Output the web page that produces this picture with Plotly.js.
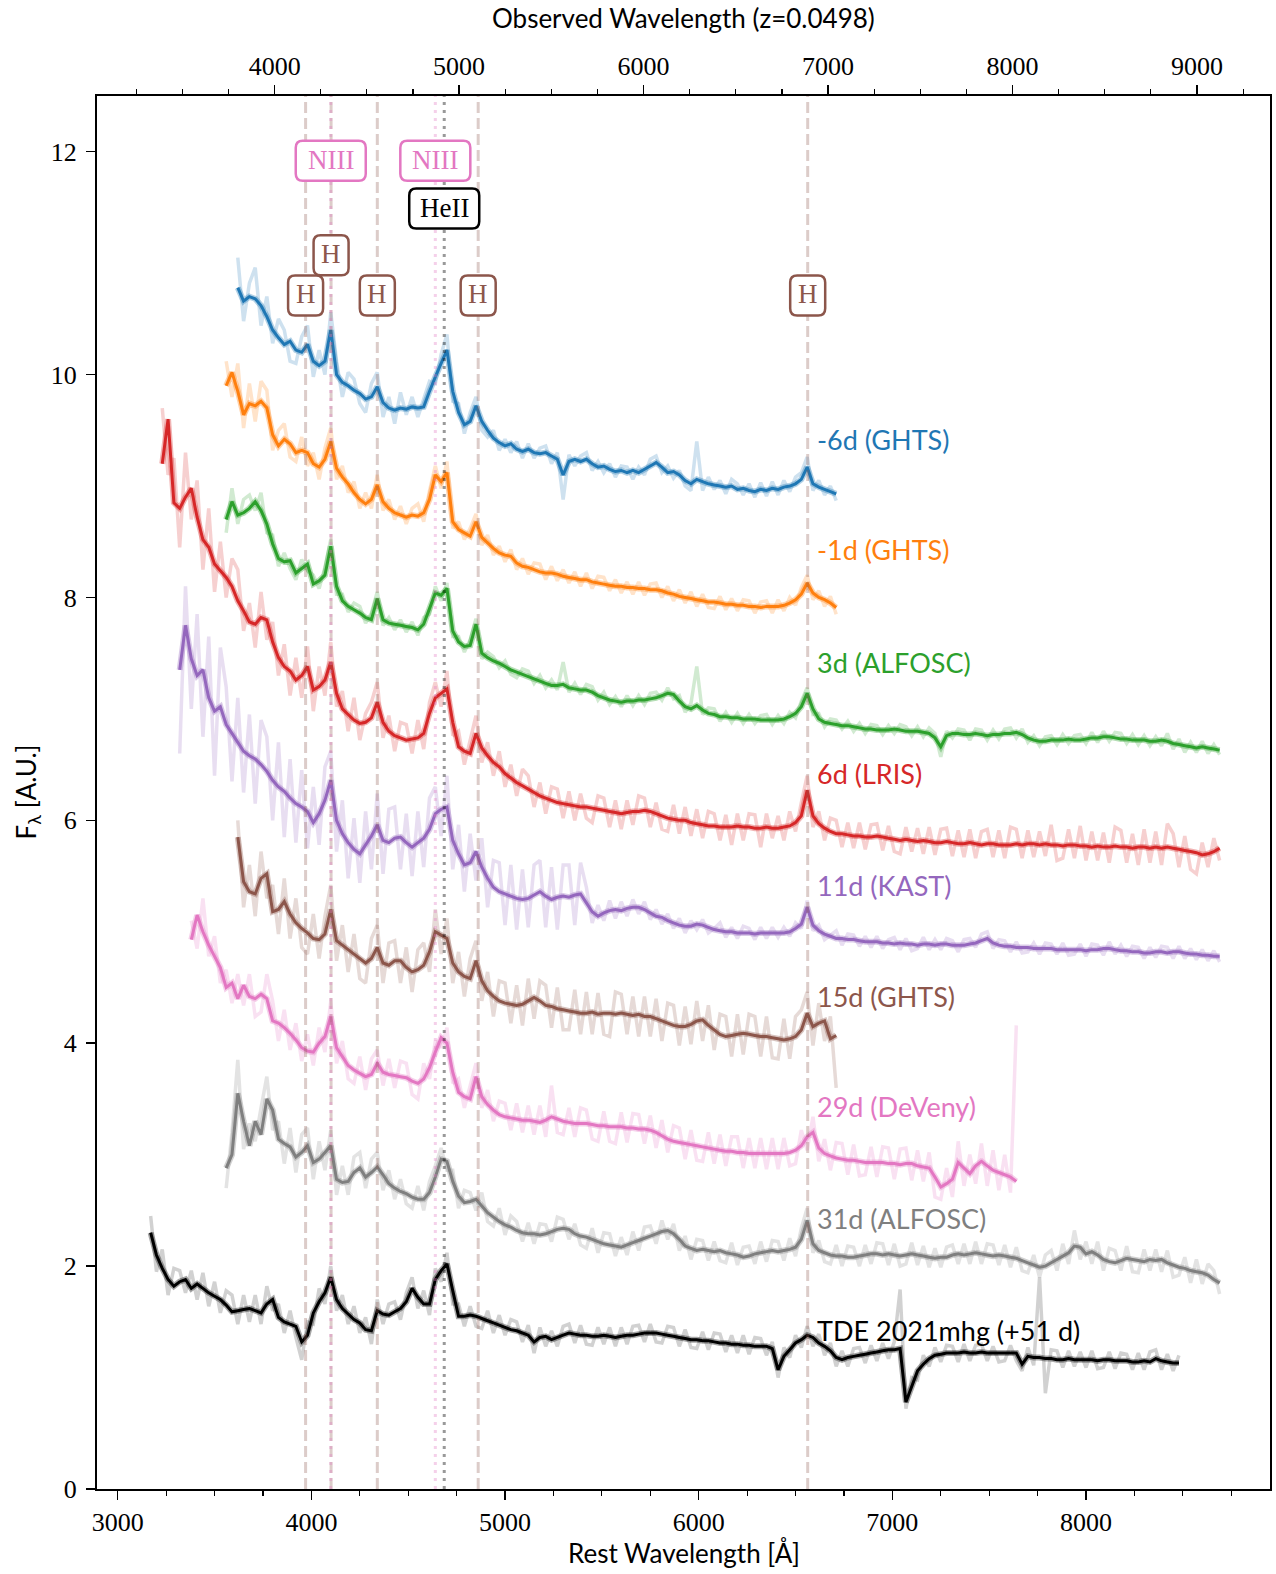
<!DOCTYPE html>
<html>
<head>
<meta charset="utf-8">
<script src="https://cdn.plot.ly/plotly-3.0.1.min.js"></script>
<style>
  html, body { margin: 0; padding: 0; background: #ffffff; }
  #chart { width: 1276px; height: 1574px; }
</style>
</head>
<body>
<div id="chart"></div>
<script>
// Spectral sequence, rest-frame wavelength (Å) vs. offset flux F_lambda.
// Every spectrum is sampled on a uniform 30 Å grid beginning at waveStart[k].
const WAVE_STEP = 30;
const REDSHIFT = 0.0498;

const epochLabels = ['-6d (GHTS)', '-1d (GHTS)', '3d (ALFOSC)', '6d (LRIS)', '11d (KAST)',
                     '15d (GHTS)', '29d (DeVeny)', '31d (ALFOSC)', 'TDE 2021mhg (+51 d)'];
const waveStart = [3620, 3560, 3560, 3230, 3320, 3620, 3380, 3560, 3170];

// ---- smoothed fluxes (rows of ten samples; first wavelength of each row in the comment)
const smoothM6 = [
  10.78, 10.66, 10.70, 10.68, 10.62, 10.52, 10.40, 10.33, 10.27, 10.30, // 3620
  10.22, 10.20, 10.27, 10.12, 10.08, 10.12, 10.40, 10.00, 9.93, 9.90,   // 3920
  9.86, 9.83, 9.78, 9.80, 9.89, 9.75, 9.70, 9.68, 9.70, 9.69,           // 4220
  9.71, 9.70, 9.71, 9.85, 9.98, 10.10, 10.22, 9.85, 9.66, 9.55,         // 4520
  9.58, 9.72, 9.58, 9.50, 9.43, 9.39, 9.36, 9.38, 9.33, 9.31,           // 4820
  9.33, 9.30, 9.29, 9.30, 9.27, 9.24, 9.10, 9.22, 9.24, 9.22,           // 5120
  9.24, 9.20, 9.17, 9.18, 9.15, 9.13, 9.14, 9.12, 9.14, 9.12,           // 5420
  9.15, 9.18, 9.21, 9.17, 9.12, 9.13, 9.10, 9.05, 9.02, 9.06,           // 5720
  9.04, 9.02, 9.01, 9.00, 8.99, 9.00, 8.97, 8.98, 8.96, 8.95,           // 6020
  8.97, 8.96, 8.98, 8.97, 8.99, 9.00, 9.02, 9.06, 9.17, 9.02,           // 6320
  8.99, 8.97, 8.95, 8.93                                                // 6620
];
const smoothM1 = [
  9.90, 10.02, 9.85, 9.64, 9.74, 9.72, 9.76, 9.70, 9.46, 9.36,  // 3560
  9.42, 9.38, 9.30, 9.32, 9.30, 9.20, 9.17, 9.24, 9.40, 9.16,   // 3860
  9.08, 9.02, 8.94, 8.88, 8.84, 8.88, 9.01, 8.86, 8.80, 8.76,   // 4160
  8.74, 8.72, 8.74, 8.73, 8.76, 8.88, 9.10, 9.04, 9.12, 8.68,   // 4460
  8.61, 8.58, 8.55, 8.68, 8.54, 8.49, 8.44, 8.40, 8.38, 8.37,   // 4760
  8.31, 8.28, 8.27, 8.25, 8.23, 8.22, 8.22, 8.21, 8.19, 8.18,   // 5060
  8.17, 8.16, 8.16, 8.14, 8.13, 8.12, 8.11, 8.10, 8.10, 8.09,   // 5360
  8.09, 8.08, 8.08, 8.07, 8.07, 8.06, 8.04, 8.03, 8.01, 8.00,   // 5660
  7.99, 7.98, 7.97, 7.96, 7.96, 7.95, 7.94, 7.94, 7.93, 7.93,   // 5960
  7.92, 7.92, 7.91, 7.92, 7.92, 7.92, 7.93, 7.95, 7.98, 8.03,   // 6260
  8.13, 8.04, 8.00, 7.98, 7.95, 7.91                            // 6560
];
const smooth3 = [
  8.70, 8.86, 8.74, 8.76, 8.80, 8.86, 8.78, 8.66, 8.48, 8.35,   // 3560
  8.32, 8.33, 8.22, 8.26, 8.30, 8.12, 8.15, 8.20, 8.46, 8.10,   // 3860
  7.97, 7.92, 7.89, 7.86, 7.82, 7.80, 7.99, 7.80, 7.77, 7.76,   // 4160
  7.75, 7.74, 7.73, 7.71, 7.76, 7.90, 8.04, 8.02, 8.08, 7.70,   // 4460
  7.60, 7.56, 7.57, 7.76, 7.50, 7.46, 7.43, 7.41, 7.38, 7.35,   // 4760
  7.33, 7.31, 7.29, 7.27, 7.25, 7.23, 7.21, 7.21, 7.22, 7.19,   // 5060
  7.18, 7.17, 7.17, 7.15, 7.12, 7.10, 7.08, 7.07, 7.06, 7.07,   // 5360
  7.07, 7.08, 7.08, 7.09, 7.10, 7.12, 7.14, 7.13, 7.07, 7.02,   // 5660
  7.00, 7.03, 6.99, 6.96, 6.95, 6.93, 6.93, 6.92, 6.92, 6.91,   // 5960
  6.91, 6.91, 6.90, 6.90, 6.90, 6.90, 6.91, 6.93, 6.96, 7.02,   // 6260
  7.14, 7.00, 6.91, 6.88, 6.87, 6.86, 6.85, 6.85, 6.84, 6.83,   // 6560
  6.82, 6.82, 6.81, 6.81, 6.81, 6.82, 6.81, 6.80, 6.80, 6.80,   // 6860
  6.79, 6.78, 6.74, 6.66, 6.76, 6.78, 6.78, 6.77, 6.77, 6.78,   // 7160
  6.77, 6.76, 6.77, 6.77, 6.78, 6.78, 6.79, 6.77, 6.74, 6.72,   // 7460
  6.71, 6.71, 6.72, 6.72, 6.72, 6.73, 6.72, 6.72, 6.73, 6.74,   // 7760
  6.74, 6.75, 6.75, 6.74, 6.73, 6.73, 6.72, 6.72, 6.72, 6.71,   // 8060
  6.71, 6.72, 6.71, 6.69, 6.68, 6.67, 6.66, 6.65, 6.66, 6.65,   // 8360
  6.64, 6.63                                                    // 8660
];
const smooth6 = [
  9.20, 9.60, 8.85, 8.80, 8.90, 8.98, 8.72, 8.52, 8.45, 8.30,   // 3230
  8.24, 8.18, 8.10, 7.97, 7.88, 7.78, 7.76, 7.82, 7.80, 7.60,   // 3530
  7.46, 7.38, 7.34, 7.26, 7.30, 7.38, 7.17, 7.20, 7.26, 7.42,   // 3830
  7.14, 7.00, 6.95, 6.90, 6.87, 6.88, 6.92, 7.06, 6.88, 6.80,   // 4130
  6.76, 6.74, 6.72, 6.73, 6.74, 6.78, 6.96, 7.10, 7.14, 7.18,   // 4430
  6.88, 6.66, 6.62, 6.60, 6.78, 6.65, 6.58, 6.52, 6.48, 6.42,   // 4730
  6.38, 6.34, 6.31, 6.28, 6.25, 6.22, 6.20, 6.18, 6.16, 6.15,   // 5030
  6.14, 6.13, 6.12, 6.12, 6.11, 6.10, 6.09, 6.08, 6.07, 6.06,   // 5330
  6.07, 6.08, 6.08, 6.09, 6.08, 6.06, 6.04, 6.02, 6.01, 6.00,   // 5630
  6.00, 5.98, 5.97, 5.96, 5.95, 5.95, 5.94, 5.94, 5.94, 5.95,   // 5930
  5.94, 5.94, 5.93, 5.93, 5.94, 5.93, 5.93, 5.94, 5.95, 5.98,   // 6230
  6.04, 6.27, 6.04, 5.97, 5.93, 5.90, 5.88, 5.88, 5.87, 5.86,   // 6530
  5.86, 5.85, 5.85, 5.86, 5.85, 5.84, 5.83, 5.82, 5.83, 5.82,   // 6830
  5.81, 5.82, 5.81, 5.80, 5.80, 5.81, 5.80, 5.79, 5.79, 5.80,   // 7130
  5.79, 5.78, 5.79, 5.79, 5.78, 5.78, 5.78, 5.79, 5.78, 5.79,   // 7430
  5.79, 5.78, 5.79, 5.78, 5.78, 5.77, 5.78, 5.78, 5.77, 5.77,   // 7730
  5.76, 5.77, 5.76, 5.76, 5.77, 5.76, 5.76, 5.75, 5.76, 5.76,   // 8030
  5.75, 5.76, 5.75, 5.76, 5.75, 5.74, 5.73, 5.72, 5.71, 5.69,   // 8330
  5.70, 5.72, 5.75                                              // 8630
];
const smooth11 = [
  7.35, 7.75, 7.45, 7.30, 7.35, 7.10, 6.98, 7.02, 6.86, 6.78,   // 3320
  6.70, 6.62, 6.58, 6.55, 6.50, 6.44, 6.36, 6.30, 6.26, 6.20,   // 3620
  6.15, 6.12, 6.08, 5.98, 6.06, 6.18, 6.36, 6.00, 5.88, 5.80,   // 3920
  5.74, 5.70, 5.78, 5.86, 5.96, 5.82, 5.80, 5.84, 5.85, 5.80,   // 4220
  5.76, 5.80, 5.84, 5.92, 6.06, 6.10, 6.12, 5.82, 5.70, 5.60,   // 4520
  5.62, 5.72, 5.58, 5.48, 5.40, 5.36, 5.34, 5.32, 5.30, 5.29,   // 4820
  5.30, 5.33, 5.36, 5.32, 5.29, 5.31, 5.32, 5.31, 5.33, 5.34,   // 5120
  5.26, 5.18, 5.14, 5.17, 5.19, 5.20, 5.19, 5.21, 5.22, 5.22,   // 5420
  5.20, 5.17, 5.14, 5.13, 5.10, 5.08, 5.06, 5.05, 5.05, 5.07,   // 5720
  5.06, 5.04, 5.02, 5.01, 5.00, 5.00, 4.99, 4.99, 4.99, 4.98,   // 6020
  4.99, 4.99, 4.99, 4.99, 4.99, 5.00, 5.03, 5.07, 5.22, 5.06,   // 6320
  5.01, 4.98, 4.96, 4.94, 4.94, 4.93, 4.93, 4.92, 4.91, 4.91,   // 6620
  4.91, 4.90, 4.90, 4.89, 4.90, 4.89, 4.89, 4.88, 4.89, 4.89,   // 6920
  4.88, 4.89, 4.89, 4.88, 4.88, 4.88, 4.89, 4.90, 4.92, 4.94,   // 7220
  4.90, 4.88, 4.87, 4.87, 4.86, 4.86, 4.86, 4.85, 4.85, 4.85,   // 7520
  4.85, 4.84, 4.84, 4.84, 4.84, 4.84, 4.83, 4.84, 4.84, 4.85,   // 7820
  4.85, 4.84, 4.83, 4.83, 4.82, 4.82, 4.81, 4.81, 4.82, 4.82,   // 8120
  4.81, 4.82, 4.82, 4.81, 4.80, 4.80, 4.79, 4.79, 4.78, 4.78    // 8420
];
const smooth15 = [
  5.85, 5.45, 5.36, 5.34, 5.48, 5.52, 5.18, 5.20, 5.27, 5.16,   // 3620
  5.08, 5.03, 4.99, 4.94, 4.93, 4.98, 5.20, 4.92, 4.88, 4.84,   // 3920
  4.80, 4.76, 4.72, 4.76, 4.86, 4.72, 4.70, 4.74, 4.74, 4.68,   // 4220
  4.64, 4.66, 4.70, 4.82, 5.00, 4.97, 4.94, 4.72, 4.64, 4.60,   // 4520
  4.58, 4.74, 4.56, 4.47, 4.42, 4.38, 4.36, 4.35, 4.34, 4.35,   // 4820
  4.38, 4.41, 4.38, 4.34, 4.33, 4.31, 4.30, 4.29, 4.28, 4.27,   // 5120
  4.27, 4.28, 4.26, 4.27, 4.27, 4.26, 4.27, 4.26, 4.25, 4.26,   // 5420
  4.24, 4.24, 4.22, 4.20, 4.18, 4.16, 4.15, 4.15, 4.17, 4.20,   // 5720
  4.21, 4.16, 4.12, 4.08, 4.06, 4.07, 4.08, 4.09, 4.08, 4.07,   // 6020
  4.06, 4.06, 4.05, 4.04, 4.03, 4.04, 4.06, 4.12, 4.27, 4.15,   // 6320
  4.18, 4.20, 4.04, 4.07                                        // 6620
];
const smooth29 = [
  4.93, 5.15, 5.00, 4.88, 4.78, 4.68, 4.50, 4.54, 4.40, 4.52,   // 3380
  4.42, 4.40, 4.44, 4.40, 4.20, 4.18, 4.14, 4.09, 4.03, 3.96,   // 3680
  3.93, 3.92, 4.00, 4.06, 4.24, 3.96, 3.88, 3.80, 3.76, 3.73,   // 3980
  3.70, 3.72, 3.82, 3.74, 3.72, 3.71, 3.70, 3.69, 3.66, 3.64,   // 4280
  3.68, 3.78, 3.92, 4.05, 4.00, 3.74, 3.56, 3.52, 3.50, 3.70,   // 4580
  3.52, 3.45, 3.40, 3.36, 3.34, 3.33, 3.32, 3.31, 3.31, 3.30,   // 4880
  3.29, 3.31, 3.34, 3.32, 3.30, 3.29, 3.28, 3.28, 3.28, 3.27,   // 5180
  3.26, 3.26, 3.25, 3.25, 3.25, 3.24, 3.24, 3.23, 3.23, 3.22,   // 5480
  3.20, 3.17, 3.14, 3.12, 3.11, 3.10, 3.09, 3.08, 3.07, 3.06,   // 5780
  3.05, 3.04, 3.03, 3.03, 3.02, 3.02, 3.01, 3.01, 3.01, 3.01,   // 6080
  3.01, 3.01, 3.01, 3.02, 3.04, 3.08, 3.16, 3.20, 3.06, 3.01,   // 6380
  2.99, 2.97, 2.96, 2.95, 2.95, 2.94, 2.93, 2.93, 2.93, 2.93,   // 6680
  2.92, 2.92, 2.91, 2.92, 2.92, 2.90, 2.89, 2.88, 2.80, 2.71,   // 6980
  2.74, 2.78, 2.93, 2.88, 2.83, 2.90, 2.94, 2.90, 2.86, 2.84,   // 7280
  2.82, 2.80, 2.76                                              // 7580
];
const smooth31 = [
  2.88, 3.00, 3.55, 3.30, 3.08, 3.30, 3.18, 3.50, 3.40, 3.14,   // 3560
  3.10, 3.07, 2.98, 3.02, 3.08, 2.93, 2.96, 3.02, 3.08, 2.78,   // 3860
  2.75, 2.76, 2.84, 2.88, 2.80, 2.84, 2.89, 2.82, 2.74, 2.70,   // 4160
  2.67, 2.65, 2.62, 2.60, 2.60, 2.66, 2.80, 2.96, 2.94, 2.76,   // 4460
  2.63, 2.57, 2.58, 2.60, 2.54, 2.48, 2.44, 2.40, 2.37, 2.35,   // 4760
  2.32, 2.30, 2.29, 2.29, 2.28, 2.29, 2.31, 2.33, 2.34, 2.33,   // 5060
  2.29, 2.27, 2.26, 2.24, 2.22, 2.20, 2.19, 2.18, 2.17, 2.19,   // 5360
  2.21, 2.23, 2.25, 2.27, 2.29, 2.31, 2.32, 2.29, 2.24, 2.18,   // 5660
  2.16, 2.14, 2.15, 2.14, 2.13, 2.14, 2.12, 2.11, 2.10, 2.08,   // 5960
  2.09, 2.11, 2.12, 2.13, 2.14, 2.13, 2.14, 2.15, 2.17, 2.24,   // 6260
  2.41, 2.20, 2.14, 2.12, 2.10, 2.09, 2.09, 2.08, 2.08, 2.09,   // 6560
  2.10, 2.11, 2.11, 2.10, 2.11, 2.10, 2.09, 2.10, 2.11, 2.10,   // 6860
  2.09, 2.08, 2.07, 2.08, 2.08, 2.10, 2.11, 2.10, 2.11, 2.12,   // 7160
  2.11, 2.10, 2.09, 2.10, 2.09, 2.08, 2.07, 2.05, 2.03, 2.01,   // 7460
  1.99, 2.00, 2.03, 2.06, 2.09, 2.12, 2.18, 2.17, 2.11, 2.13,   // 7760
  2.10, 2.06, 2.04, 2.03, 2.05, 2.07, 2.06, 2.05, 2.04, 2.06,   // 8060
  2.05, 2.06, 2.03, 2.01, 1.99, 1.98, 1.96, 1.95, 1.94, 1.92,   // 8360
  1.88, 1.85                                                    // 8660
];
const smoothTDE = [
  2.30, 2.10, 1.98, 1.88, 1.82, 1.86, 1.88, 1.80, 1.84, 1.80,   // 3170
  1.76, 1.73, 1.70, 1.65, 1.59, 1.60, 1.61, 1.62, 1.60, 1.58,   // 3470
  1.66, 1.70, 1.54, 1.50, 1.48, 1.46, 1.32, 1.38, 1.58, 1.68,   // 3770
  1.76, 1.90, 1.70, 1.62, 1.57, 1.52, 1.49, 1.43, 1.42, 1.60,   // 4070
  1.57, 1.56, 1.59, 1.62, 1.68, 1.80, 1.72, 1.66, 1.66, 1.88,   // 4370
  1.96, 2.02, 1.78, 1.55, 1.55, 1.56, 1.55, 1.53, 1.51, 1.49,   // 4670
  1.47, 1.45, 1.43, 1.42, 1.40, 1.38, 1.32, 1.36, 1.37, 1.34,   // 4970
  1.36, 1.38, 1.40, 1.39, 1.38, 1.38, 1.37, 1.37, 1.38, 1.37,   // 5270
  1.36, 1.37, 1.38, 1.38, 1.39, 1.40, 1.40, 1.40, 1.39, 1.38,   // 5570
  1.37, 1.36, 1.35, 1.34, 1.34, 1.33, 1.33, 1.32, 1.31, 1.31,   // 5870
  1.30, 1.30, 1.29, 1.29, 1.28, 1.28, 1.28, 1.26, 1.07, 1.19,   // 6170
  1.25, 1.31, 1.34, 1.38, 1.36, 1.31, 1.28, 1.24, 1.18, 1.16,   // 6470
  1.18, 1.19, 1.20, 1.21, 1.22, 1.23, 1.24, 1.25, 1.25, 1.26,   // 6770
  0.78, 0.92, 1.06, 1.12, 1.17, 1.20, 1.21, 1.22, 1.22, 1.22,   // 7070
  1.23, 1.22, 1.22, 1.23, 1.22, 1.22, 1.22, 1.22, 1.22, 1.22,   // 7370
  1.12, 1.19, 1.18, 1.18, 1.17, 1.17, 1.16, 1.16, 1.17, 1.16,   // 7670
  1.16, 1.16, 1.16, 1.15, 1.16, 1.16, 1.15, 1.15, 1.15, 1.14,   // 7970
  1.14, 1.15, 1.14, 1.17, 1.15, 1.14, 1.13, 1.13                // 8270
];

// ---- unsmoothed fluxes on the same grids
const rawM6 = [
  11.05, 10.48, 10.82, 10.96, 10.44, 10.70, 10.28, 10.50, 10.40, 10.12, // 3620
  10.10, 10.34, 10.44, 9.98, 10.22, 10.00, 10.56, 10.12, 9.80, 10.02,   // 3920
  9.96, 9.74, 9.66, 9.92, 10.02, 9.62, 9.80, 9.56, 9.84, 9.64,          // 4220
  9.80, 9.62, 9.78, 9.94, 9.92, 10.18, 10.36, 9.76, 9.74, 9.47,         // 4520
  9.66, 9.80, 9.50, 9.44, 9.50, 9.32, 9.42, 9.30, 9.40, 9.25,           // 4820
  9.38, 9.25, 9.34, 9.36, 9.20, 9.30, 8.88, 9.28, 9.18, 9.27,           // 5120
  9.30, 9.14, 9.22, 9.12, 9.20, 9.08, 9.18, 9.17, 9.06, 9.17,           // 5420
  9.10, 9.24, 9.27, 9.12, 9.18, 9.07, 9.14, 9.00, 8.96, 9.40,           // 5720
  8.96, 9.08, 8.97, 9.05, 8.93, 9.06, 9.02, 8.92, 9.02, 8.90,           // 6020
  9.03, 8.91, 9.04, 8.92, 9.05, 8.95, 9.08, 9.12, 9.26, 8.96,           // 6320
  9.05, 8.92, 9.00, 8.87                                                // 6620
];
const rawM1 = [
  10.12, 9.80, 10.10, 9.52, 9.92, 9.58, 9.94, 9.86, 9.32, 9.50,  // 3560
  9.56, 9.26, 9.22, 9.44, 9.18, 9.30, 9.06, 9.34, 9.52, 9.06,    // 3860
  9.18, 8.94, 9.04, 8.80, 8.94, 8.80, 9.10, 8.78, 8.88, 8.70,    // 4160
  8.82, 8.66, 8.80, 8.84, 8.68, 8.96, 9.18, 8.98, 9.22, 8.62,    // 4460
  8.68, 8.52, 8.62, 8.75, 8.47, 8.56, 8.38, 8.46, 8.32, 8.43,    // 4760
  8.25, 8.35, 8.21, 8.31, 8.30, 8.16, 8.28, 8.15, 8.25, 8.13,    // 5060
  8.23, 8.10, 8.22, 8.08, 8.19, 8.18, 8.06, 8.16, 8.04, 8.14,    // 5360
  8.03, 8.14, 8.02, 8.12, 8.13, 8.00, 8.10, 7.97, 8.07, 7.95,    // 5660
  8.05, 7.92, 8.03, 7.91, 7.90, 8.01, 7.89, 7.99, 7.88, 7.98,    // 5960
  7.97, 7.86, 7.96, 7.97, 7.86, 7.98, 7.88, 8.00, 7.93, 8.09,    // 6260
  8.20, 7.98, 8.06, 7.92, 8.01, 7.85                             // 6560
];
const raw3 = [
  8.58, 8.98, 8.66, 8.88, 8.92, 8.78, 8.94, 8.58, 8.56, 8.28,   // 3560
  8.40, 8.26, 8.16, 8.34, 8.24, 8.20, 8.08, 8.27, 8.52, 8.03,   // 3860
  8.03, 7.87, 7.95, 7.92, 7.77, 7.86, 8.05, 7.75, 7.82, 7.71,   // 4160
  7.80, 7.69, 7.78, 7.66, 7.82, 7.85, 8.10, 7.97, 8.13, 7.65,   // 4460
  7.65, 7.51, 7.62, 7.81, 7.45, 7.51, 7.47, 7.37, 7.43, 7.31,   // 4760
  7.28, 7.36, 7.34, 7.23, 7.30, 7.19, 7.26, 7.17, 7.42, 7.15,   // 5060
  7.23, 7.13, 7.22, 7.20, 7.08, 7.15, 7.04, 7.11, 7.02, 7.12,   // 5360
  7.03, 7.12, 7.04, 7.14, 7.15, 7.08, 7.19, 7.09, 7.12, 6.97,   // 5660
  7.05, 7.38, 6.95, 7.01, 7.00, 6.89, 6.97, 6.88, 6.96, 6.87,   // 5960
  6.95, 6.87, 6.94, 6.95, 6.86, 6.94, 6.87, 6.97, 6.92, 7.07,   // 6260
  7.19, 6.95, 6.96, 6.84, 6.91, 6.90, 6.82, 6.89, 6.80, 6.87,   // 6560
  6.78, 6.86, 6.85, 6.77, 6.85, 6.78, 6.86, 6.84, 6.76, 6.84,   // 6860
  6.75, 6.83, 6.78, 6.57, 6.80, 6.74, 6.82, 6.81, 6.72, 6.82,   // 7160
  6.81, 6.72, 6.81, 6.73, 6.82, 6.83, 6.74, 6.82, 6.70, 6.76,   // 7460
  6.67, 6.75, 6.76, 6.68, 6.77, 6.69, 6.76, 6.77, 6.69, 6.79,   // 7760
  6.70, 6.80, 6.71, 6.79, 6.78, 6.69, 6.77, 6.68, 6.76, 6.67,   // 8060
  6.75, 6.67, 6.78, 6.64, 6.73, 6.61, 6.70, 6.61, 6.71, 6.60,   // 8360
  6.68, 6.59                                                    // 8660
];
const raw6 = [
  9.70, 9.10, 9.25, 8.45, 9.30, 8.70, 9.05, 8.25, 8.80, 8.05,   // 3230
  8.50, 8.00, 8.35, 8.25, 7.70, 7.95, 7.55, 8.05, 7.62, 7.78,   // 3530
  7.30, 7.58, 7.12, 7.46, 7.10, 7.56, 6.98, 7.38, 7.12, 7.60,   // 3830
  7.02, 7.16, 6.80, 7.10, 6.72, 6.96, 7.06, 7.24, 6.74, 6.94,   // 4130
  6.62, 6.88, 6.86, 6.60, 6.90, 6.64, 7.06, 7.24, 7.02, 7.34,   // 4430
  6.76, 6.80, 6.50, 6.72, 6.94, 6.52, 6.70, 6.40, 6.62, 6.30,   // 4730
  6.50, 6.22, 6.46, 6.40, 6.12, 6.34, 6.06, 6.30, 6.28, 6.02,   // 5030
  6.26, 6.00, 6.24, 6.02, 5.98, 6.22, 6.20, 5.94, 6.18, 5.92,   // 5330
  6.18, 5.96, 6.22, 6.20, 5.94, 6.16, 5.92, 5.90, 6.14, 5.88,   // 5630
  6.12, 5.86, 6.10, 5.84, 6.08, 6.06, 5.82, 6.05, 5.78, 6.06,   // 5930
  5.82, 6.06, 6.05, 5.76, 6.06, 5.84, 6.04, 5.82, 6.08, 5.90,   // 6230
  6.16, 6.40, 5.94, 6.08, 5.82, 6.02, 6.00, 5.76, 5.98, 5.75,   // 6530
  5.98, 5.74, 5.96, 5.97, 5.73, 5.95, 5.72, 5.70, 5.94, 5.72,   // 6830
  5.93, 5.70, 5.94, 5.69, 5.92, 5.93, 5.68, 5.91, 5.67, 5.92,   // 7130
  5.66, 5.90, 5.92, 5.67, 5.91, 5.66, 5.94, 5.92, 5.66, 5.91,   // 7430
  5.67, 5.90, 5.68, 5.96, 5.64, 5.66, 5.92, 5.66, 5.95, 5.64,   // 7730
  5.90, 5.64, 5.89, 5.62, 5.94, 5.91, 5.62, 5.88, 5.60, 5.92,   // 8030
  5.62, 5.90, 5.60, 5.97, 5.88, 5.58, 5.86, 5.56, 5.52, 5.80,   // 8330
  5.58, 5.84, 5.64                                              // 8630
];
const raw11 = [
  6.60, 8.10, 7.00, 7.85, 6.75, 7.65, 6.40, 7.55, 7.20, 6.35,   // 3320
  7.10, 6.25, 6.95, 6.15, 6.90, 6.75, 6.00, 6.70, 5.85, 6.55,   // 3620
  5.80, 6.45, 5.75, 6.30, 5.78, 6.48, 6.62, 5.72, 6.18, 5.48,   // 3920
  6.02, 5.44, 6.08, 5.56, 6.24, 5.52, 6.10, 6.12, 5.56, 6.06,   // 4220
  5.50, 6.08, 5.58, 6.20, 6.30, 5.86, 6.40, 5.56, 5.96, 5.36,   // 4520
  5.88, 5.46, 5.84, 5.22, 5.64, 5.62, 5.06, 5.60, 5.02, 5.56,   // 4820
  5.04, 5.60, 5.64, 5.04, 5.58, 5.02, 5.60, 5.60, 5.06, 5.62,   // 5120
  5.40, 5.08, 5.24, 5.10, 5.28, 5.12, 5.27, 5.14, 5.29, 5.16,   // 5420
  5.27, 5.11, 5.20, 5.07, 5.16, 5.03, 5.12, 4.99, 5.10, 5.02,   // 5720
  5.11, 4.99, 5.03, 5.08, 4.95, 5.04, 4.94, 5.05, 5.03, 4.93,   // 6020
  5.04, 4.94, 5.04, 4.95, 5.04, 4.96, 5.08, 5.03, 5.28, 5.01,   // 6320
  5.06, 4.93, 4.97, 5.01, 4.88, 4.98, 4.97, 4.87, 4.96, 4.86,   // 6620
  4.96, 4.85, 4.93, 4.95, 4.84, 4.94, 4.83, 4.85, 4.95, 4.84,   // 6920
  4.93, 4.84, 4.94, 4.92, 4.82, 4.93, 4.94, 4.86, 4.98, 5.00,   // 7220
  4.85, 4.93, 4.92, 4.82, 4.91, 4.81, 4.82, 4.90, 4.80, 4.90,   // 7520
  4.89, 4.80, 4.90, 4.79, 4.80, 4.89, 4.78, 4.89, 4.88, 4.79,   // 7820
  4.91, 4.80, 4.88, 4.78, 4.87, 4.86, 4.76, 4.86, 4.77, 4.87,   // 8120
  4.86, 4.76, 4.87, 4.76, 4.85, 4.75, 4.84, 4.74, 4.83, 4.73    // 8420
];
const raw15 = [
  6.00, 5.22, 5.60, 5.14, 5.72, 5.30, 5.42, 4.98, 5.48, 4.94,   // 3620
  5.30, 4.86, 4.80, 5.16, 4.76, 5.14, 5.42, 4.74, 5.06, 4.64,   // 3920
  4.98, 4.58, 4.54, 4.94, 5.06, 4.54, 4.90, 4.92, 4.54, 4.86,   // 4220
  4.46, 4.84, 4.90, 4.64, 5.20, 4.80, 5.12, 4.54, 4.82, 4.42,   // 4520
  4.76, 4.92, 4.38, 4.64, 4.24, 4.56, 4.54, 4.18, 4.52, 4.16,   // 4820
  4.58, 4.22, 4.56, 4.52, 4.14, 4.50, 4.12, 4.12, 4.48, 4.08,   // 5120
  4.46, 4.08, 4.45, 4.08, 4.06, 4.46, 4.44, 4.08, 4.42, 4.06,   // 5420
  4.42, 4.06, 4.40, 4.02, 4.36, 4.34, 3.98, 4.33, 3.99, 4.38,   // 5720
  4.02, 4.34, 3.94, 4.26, 4.24, 3.88, 4.26, 3.90, 4.26, 4.24,   // 6020
  3.88, 4.24, 3.87, 3.86, 4.22, 3.86, 4.24, 4.30, 4.46, 3.98,   // 6320
  4.36, 4.02, 4.24, 3.60                                        // 6620
];
const raw29 = [
  5.10, 4.85, 5.30, 4.78, 4.96, 4.54, 4.66, 4.36, 4.62, 4.34,   // 3380
  4.62, 4.24, 4.28, 4.62, 4.38, 4.02, 4.30, 3.94, 4.18, 3.84,   // 3680
  4.08, 3.80, 4.14, 3.92, 4.38, 3.82, 4.02, 3.68, 3.64, 3.88,   // 3980
  3.58, 3.86, 3.94, 3.62, 3.86, 3.60, 3.84, 3.82, 3.54, 3.50,   // 4280
  3.82, 3.68, 4.02, 3.96, 4.14, 3.64, 3.68, 3.42, 3.62, 3.82,   // 4580
  3.42, 3.58, 3.30, 3.48, 3.46, 3.22, 3.46, 3.20, 3.44, 3.18,   // 4880
  3.44, 3.16, 3.62, 3.20, 3.18, 3.42, 3.16, 3.42, 3.40, 3.14,   // 5180
  3.12, 3.39, 3.12, 3.10, 3.38, 3.11, 3.37, 3.36, 3.10, 3.35,   // 5480
  3.06, 3.31, 3.02, 3.26, 3.24, 2.96, 3.22, 2.95, 2.94, 3.20,   // 5780
  2.92, 3.18, 2.90, 3.16, 3.16, 2.88, 3.15, 2.88, 3.15, 2.87,   // 6080
  3.15, 2.87, 3.15, 2.90, 2.92, 3.22, 3.04, 3.34, 2.94, 3.14,   // 6380
  2.86, 3.11, 3.10, 2.82, 3.09, 2.81, 2.82, 3.07, 2.80, 3.07,   // 6680
  3.06, 2.78, 3.05, 3.06, 2.77, 3.04, 2.76, 3.02, 2.62, 2.60,   // 6980
  2.88, 2.62, 3.12, 2.72, 3.00, 2.74, 3.10, 2.72, 3.04, 2.68,   // 7280
  3.00, 2.66, 4.16                                              // 7580
];
const raw31 = [
  2.70, 3.20, 3.85, 3.05, 3.28, 3.12, 3.42, 3.70, 3.22, 3.30,   // 3560
  2.92, 3.24, 2.84, 3.18, 3.24, 2.78, 3.12, 2.86, 3.22, 2.64,   // 3860
  2.90, 2.64, 2.98, 3.02, 2.70, 2.96, 3.02, 2.68, 2.86, 2.60,   // 4160
  2.78, 2.56, 2.52, 2.72, 2.50, 2.76, 2.90, 3.06, 2.86, 2.86,   // 4460
  2.52, 2.68, 2.66, 2.50, 2.66, 2.40, 2.36, 2.52, 2.28, 2.45,   // 4760
  2.40, 2.22, 2.39, 2.20, 2.38, 2.37, 2.22, 2.44, 2.42, 2.24,   // 5060
  2.38, 2.19, 2.16, 2.34, 2.12, 2.30, 2.29, 2.09, 2.26, 2.10,   // 5360
  2.31, 2.14, 2.35, 2.36, 2.20, 2.41, 2.24, 2.38, 2.14, 2.27,   // 5660
  2.06, 2.24, 2.23, 2.05, 2.22, 2.05, 2.03, 2.21, 2.01, 2.17,   // 5960
  2.18, 2.02, 2.22, 2.04, 2.23, 2.22, 2.05, 2.25, 2.09, 2.34,   // 6260
  2.52, 2.12, 2.23, 2.04, 2.02, 2.19, 2.00, 2.18, 2.17, 2.00,   // 6560
  2.19, 2.02, 2.21, 2.20, 2.01, 2.20, 2.00, 2.02, 2.21, 2.01,   // 6860
  2.18, 1.99, 2.16, 1.99, 2.17, 2.19, 2.02, 2.20, 2.02, 2.22,   // 7160
  2.02, 2.20, 2.19, 2.01, 2.19, 1.99, 2.17, 1.96, 1.94, 2.10,   // 7460
  1.90, 2.10, 2.14, 1.96, 2.20, 2.02, 2.32, 2.06, 2.22, 2.02,   // 7760
  2.22, 1.96, 2.16, 2.14, 1.96, 2.18, 1.95, 1.94, 2.15, 1.96,   // 8060
  2.15, 1.95, 2.14, 1.90, 1.92, 2.08, 1.85, 2.06, 1.84, 2.02,   // 8360
  1.96, 1.75                                                    // 8660
];
const rawTDE = [
  2.45, 1.95, 2.15, 1.74, 1.98, 1.96, 1.76, 1.96, 1.70, 1.94,   // 3170
  1.64, 1.86, 1.58, 1.78, 1.74, 1.48, 1.74, 1.50, 1.74, 1.48,   // 3470
  1.82, 1.60, 1.66, 1.40, 1.60, 1.36, 1.16, 1.50, 1.48, 1.80,   // 3770
  1.66, 2.00, 1.60, 1.74, 1.48, 1.64, 1.40, 1.54, 1.30, 1.70,   // 4070
  1.48, 1.66, 1.68, 1.52, 1.76, 1.90, 1.62, 1.78, 1.56, 1.98,   // 4370
  1.86, 2.12, 1.66, 1.66, 1.46, 1.64, 1.46, 1.44, 1.60, 1.40,   // 4670
  1.56, 1.38, 1.52, 1.50, 1.32, 1.47, 1.22, 1.45, 1.28, 1.42,   // 4970
  1.28, 1.46, 1.48, 1.31, 1.47, 1.30, 1.29, 1.45, 1.30, 1.45,   // 5270
  1.28, 1.45, 1.30, 1.46, 1.47, 1.32, 1.48, 1.32, 1.31, 1.46,   // 5570
  1.45, 1.28, 1.43, 1.27, 1.26, 1.41, 1.25, 1.40, 1.39, 1.23,   // 5870
  1.38, 1.22, 1.38, 1.21, 1.36, 1.35, 1.20, 1.32, 1.00, 1.27,   // 6170
  1.18, 1.38, 1.27, 1.46, 1.28, 1.39, 1.20, 1.31, 1.10, 1.24,   // 6470
  1.10, 1.26, 1.27, 1.13, 1.29, 1.15, 1.31, 1.17, 1.32, 1.79,   // 6770
  0.72, 1.00, 0.98, 1.20, 1.10, 1.27, 1.14, 1.29, 1.28, 1.14,   // 7070
  1.30, 1.15, 1.29, 1.30, 1.15, 1.28, 1.14, 1.15, 1.29, 1.15,   // 7370
  1.06, 1.27, 1.11, 1.90, 0.86, 1.25, 1.24, 1.09, 1.24, 1.10,   // 7670
  1.23, 1.09, 1.24, 1.08, 1.09, 1.23, 1.08, 1.22, 1.21, 1.07,   // 7970
  1.22, 1.07, 1.23, 1.25, 1.07, 1.21, 1.06, 1.20                // 8270
];

// ---- identified emission lines (rest wavelength, Å)
const hydrogenLines = [3970.1, 4101.7, 4340.5, 4861.3, 6562.8];
const nitrogenLines = [4100.0, 4640.0];
const heliumLines = [4686.0];

// ---------------------------------------------------------------------------
const smoothSets = [smoothM6, smoothM1, smooth3, smooth6, smooth11, smooth15, smooth29, smooth31, smoothTDE];
const rawSets = [rawM6, rawM1, raw3, raw6, raw11, raw15, raw29, raw31, rawTDE];

const seriesColors = ['#1f77b4', '#ff7f0e', '#2ca02c', '#d62728', '#9467bd',
                      '#8c564b', '#e377c2', '#7f7f7f', '#000000'];
const labelFlux = [9.42, 8.43, 7.42, 6.42, 5.42, 4.42, 3.43, 2.43, 1.42];
const LABEL_WAVE = 6600;

const X_RANGE = [2893, 8950];
const Y_RANGE = [0, 12.5];

function rgba(hex, a) {
  const n = parseInt(hex.slice(1), 16);
  return `rgba(${(n >> 16) & 255},${(n >> 8) & 255},${n & 255},${a})`;
}

const traces = [];
smoothSets.forEach((flux, k) => {
  const wave = flux.map((_, i) => waveStart[k] + WAVE_STEP * i);
  // faint unsmoothed spectrum
  traces.push({
    x: wave, y: rawSets[k], type: 'scatter', mode: 'lines',
    line: { color: rgba(seriesColors[k], k === 8 ? 0.18 : 0.22), width: 3.5, simplify: false },
    hoverinfo: 'skip', showlegend: false
  });
  // soft halo under the smoothed curve
  traces.push({
    x: wave, y: flux, type: 'scatter', mode: 'lines',
    line: { color: rgba(seriesColors[k], 0.35), width: 6, simplify: false },
    hoverinfo: 'skip', showlegend: false
  });
  traces.push({
    x: wave, y: flux, type: 'scatter', mode: 'lines',
    line: { color: seriesColors[k], width: 3, simplify: false },
    name: epochLabels[k], showlegend: false
  });
});
// carrier for the observed-frame axis on top
traces.push({ x: [], y: [], xaxis: 'x2', yaxis: 'y', type: 'scatter', mode: 'lines', showlegend: false, hoverinfo: 'skip' });

const shapes = [];
const annotations = [];

function vline(x, color, dash) {
  shapes.push({
    type: 'line', xref: 'x', yref: 'paper', x0: x, x1: x, y0: 0, y1: 1,
    line: { color: color, width: 3, dash: dash }, layer: 'above'
  });
}
hydrogenLines.forEach(w => vline(w, 'rgba(140,86,75,0.3)', '11px,5px'));
nitrogenLines.forEach(w => vline(w, 'rgba(227,119,194,0.35)', '3px,5px'));
heliumLines.forEach(w => vline(w, 'rgba(0,0,0,0.4)', '3px,5px'));

function roundedBox(w, h, r) {
  const x0 = -w / 2, x1 = w / 2, y0 = -h / 2, y1 = h / 2;
  return `M ${x0 + r},${y0} L ${x1 - r},${y0} Q ${x1},${y0} ${x1},${y0 + r} ` +
         `L ${x1},${y1 - r} Q ${x1},${y1} ${x1 - r},${y1} L ${x0 + r},${y1} ` +
         `Q ${x0},${y1} ${x0},${y1 - r} L ${x0},${y0 + r} Q ${x0},${y0} ${x0 + r},${y0} Z`;
}
function lineTag(text, wave, flux, color, boxW) {
  shapes.push({
    type: 'path', xref: 'x', yref: 'y', xsizemode: 'pixel', ysizemode: 'pixel',
    xanchor: wave, yanchor: flux, path: roundedBox(boxW, 40, 7),
    fillcolor: '#ffffff', line: { color: color, width: 2.5 }, layer: 'above'
  });
  annotations.push({
    x: wave, y: flux, xref: 'x', yref: 'y', text: text, showarrow: false,
    xanchor: 'center', yanchor: 'middle', yshift: 1,
    font: { family: 'Liberation Serif, DejaVu Serif, serif', size: 27, color: color }
  });
}
const H_COLOR = '#8c564b', N_COLOR = '#e377c2', HE_COLOR = '#000000';
lineTag('NIII', nitrogenLines[0], 11.92, N_COLOR, 70);
lineTag('NIII', nitrogenLines[1], 11.92, N_COLOR, 70);
lineTag('HeII', heliumLines[0], 11.49, HE_COLOR, 70);
lineTag('H', hydrogenLines[0], 10.71, H_COLOR, 35);
lineTag('H', hydrogenLines[1], 11.07, H_COLOR, 35);
lineTag('H', hydrogenLines[2], 10.71, H_COLOR, 35);
lineTag('H', hydrogenLines[3], 10.71, H_COLOR, 35);
lineTag('H', hydrogenLines[4], 10.71, H_COLOR, 35);

epochLabels.forEach((txt, k) => {
  annotations.push({
    x: LABEL_WAVE, y: labelFlux[k], xref: 'x', yref: 'y', text: txt, showarrow: false,
    xanchor: 'left', yanchor: 'middle',
    font: { family: 'Lato, Open Sans, sans-serif', size: 27, color: seriesColors[k] }
  });
});

const titleFont = { family: 'Lato, Open Sans, sans-serif', size: 26, color: '#000000' };
annotations.push({
  xref: 'paper', yref: 'paper', x: 0.5, y: 0, yshift: -64, text: 'Rest Wavelength [Å]',
  showarrow: false, xanchor: 'center', yanchor: 'middle', font: titleFont
});
annotations.push({
  xref: 'paper', yref: 'paper', x: 0.5, y: 1, yshift: 78, text: 'Observed Wavelength (z=0.0498)',
  showarrow: false, xanchor: 'center', yanchor: 'middle', font: titleFont
});
annotations.push({
  xref: 'paper', yref: 'paper', x: 0, y: 0.5, xshift: -70, text: 'F<sub>λ</sub> [A.U.]',
  textangle: -90, showarrow: false, xanchor: 'center', yanchor: 'middle', font: titleFont
});

const tickFont = { family: 'Liberation Serif, DejaVu Serif, serif', size: 26, color: '#000000' };
const axisCommon = {
  showgrid: false, zeroline: false, showline: true, linecolor: '#000000', linewidth: 2,
  ticks: 'outside', ticklen: 9, tickwidth: 1.5, tickcolor: '#000000', tickfont: tickFont
};

const layout = {
  width: 1276, height: 1574,
  margin: { l: 97, r: 6, t: 96, b: 85, pad: 0 },
  paper_bgcolor: '#ffffff', plot_bgcolor: '#ffffff',
  showlegend: false,
  xaxis: Object.assign({}, axisCommon, {
    range: X_RANGE, tick0: 0, dtick: 1000, mirror: true,
    minor: { dtick: 250, ticks: 'outside', ticklen: 5, tickwidth: 1.2, tickcolor: '#000000', showgrid: false }
  }),
  xaxis2: Object.assign({}, axisCommon, {
    overlaying: 'x', side: 'top', anchor: 'y',
    range: [X_RANGE[0] * (1 + REDSHIFT), X_RANGE[1] * (1 + REDSHIFT)],
    tick0: 0, dtick: 1000,
    minor: { dtick: 250, ticks: 'outside', ticklen: 5, tickwidth: 1.2, tickcolor: '#000000', showgrid: false }
  }),
  yaxis: Object.assign({}, axisCommon, {
    range: Y_RANGE, tick0: 0, dtick: 2, mirror: true, ticklabelstandoff: 4
  }),
  shapes: shapes,
  annotations: annotations
};

Plotly.newPlot('chart', traces, layout, { staticPlot: true, displayModeBar: false });
</script>
</body>
</html>
